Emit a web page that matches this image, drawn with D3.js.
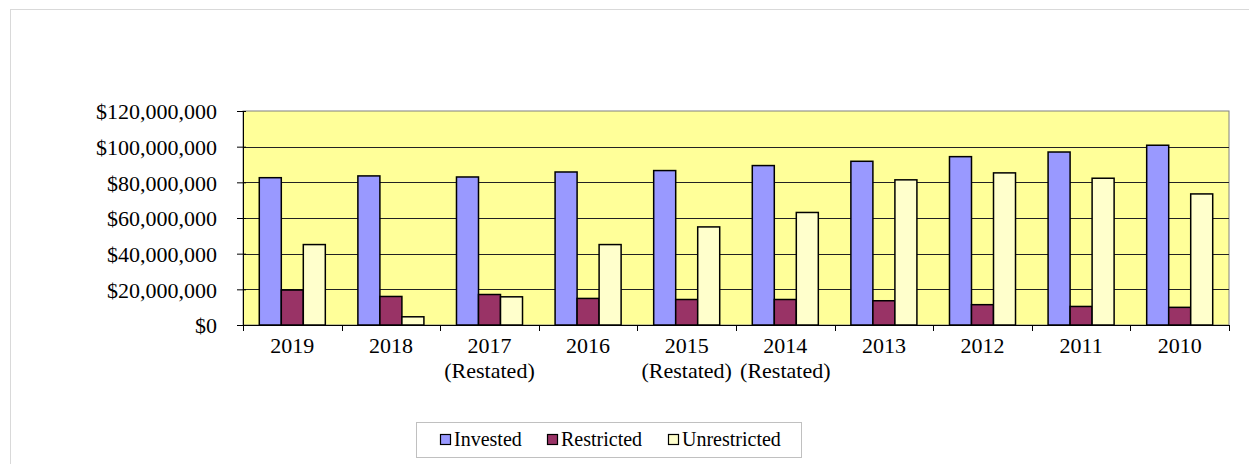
<!DOCTYPE html>
<html>
<head>
<meta charset="utf-8">
<script src="https://cdn.jsdelivr.net/npm/d3@7"></script>
<style>
  body { margin: 0; background: #fff; }
</style>
</head>
<body>
<div id="chart"></div>
<script>
var years = ["2019", "2018", "2017", "2016", "2015", "2014", "2013", "2012", "2011", "2010"];
var notes = ["", "", "(Restated)", "", "(Restated)", "(Restated)", "", "", "", ""];
var invested = [82.6, 83.6, 83.0, 85.8, 86.6, 89.4, 91.8, 94.4, 97.0, 100.8];
var restricted = [19.6, 16.0, 17.1, 14.9, 14.3, 14.3, 13.6, 11.4, 10.4, 9.9];
var unrestricted = [45.1, 4.6, 15.8, 45.1, 55.0, 63.1, 81.4, 85.3, 82.3, 73.5];
var seriesNames = ["Invested", "Restricted", "Unrestricted"];
var colors = ["#9999ff", "#993366", "#ffffcc"];
var yTicks = [0, 20, 40, 60, 80, 100, 120];

var serif = "Liberation Serif";

var W = 1249, H = 464;
var margin = {top: 111, right: 20, bottom: 139, left: 243};
var width = W - margin.left - margin.right;
var height = H - margin.top - margin.bottom;

var svg = d3.select("#chart")
  .append("svg")
    .attr("width", W)
    .attr("height", H)
    .attr("font-family", serif);

// outer chart frame
svg.append("rect")
  .attr("x", 10.5).attr("y", 9.5)
  .attr("width", W).attr("height", H)
  .attr("fill", "none")
  .attr("stroke", "#d9d9d9");

var g = svg.append("g")
  .attr("transform", "translate(" + margin.left + "," + margin.top + ")");

var x = d3.scaleBand()
  .domain(years)
  .range([0, width]);

var xs = d3.scaleBand()
  .domain(seriesNames)
  .range([0, x.bandwidth()])
  .paddingOuter(0.74);

var y = d3.scaleLinear()
  .domain([0, 120])
  .range([height, 0]);

g.append("rect")
  .attr("width", width).attr("height", height)
  .attr("fill", "#ffff99")
  .attr("stroke", "#808080");

// gridlines
g.selectAll(".grid")
  .data(yTicks.slice(1, -1))
  .enter().append("line")
    .attr("x1", 0).attr("x2", width)
    .attr("y1", function(d){ return Math.round(y(d)) + 0.5; })
    .attr("y2", function(d){ return Math.round(y(d)) + 0.5; })
    .attr("stroke", "#222");

var data = years.map(function(yr, i){
  return {year: yr, vals: [invested[i], restricted[i], unrestricted[i]]};
});

var grp = g.selectAll(".grp")
  .data(data)
  .enter().append("g")
    .attr("transform", function(d){ return "translate(" + x(d.year) + ",0)"; });

grp.selectAll("rect")
  .data(function(d){ return d.vals.map(function(v, j){ return {name: seriesNames[j], v: v, c: colors[j]}; }); })
  .enter().append("rect")
    .attr("x", function(d){ return xs(d.name); })
    .attr("width", xs.bandwidth())
    .attr("y", function(d){ return y(d.v); })
    .attr("height", function(d){ return height - y(d.v); })
    .attr("fill", function(d){ return d.c; })
    .attr("stroke", "#000")
    .attr("stroke-width", 1.5);

// y axis
var yAxis = g.append("g")
  .attr("font-family", serif)
  .call(d3.axisLeft(y).tickValues(yTicks).tickSize(6).tickPadding(20)
    .tickFormat(function(d){ return "$" + d3.format(",")(d * 1000000); }));
yAxis.attr("font-family", serif);
yAxis.selectAll("text").attr("font-family", serif).attr("font-size", 22).attr("fill", "#000").attr("dy", "0.35em");
yAxis.selectAll("line").attr("stroke", "#000").attr("x2", -6).attr("x1", 3);
yAxis.select(".domain").attr("stroke", "#000").attr("d", "M0.5," + height + "V0");

// x axis
var xAxis = g.append("g")
  .attr("transform", "translate(0," + height + ")")
  .call(d3.axisBottom(x).tickSize(0).tickPadding(0).tickFormat(""));
xAxis.select(".domain").attr("d", "M0,0.5H" + width).attr("stroke", "#000");

var bounds = d3.range(years.length + 1);
g.append("g")
  .selectAll("line")
  .data(bounds)
  .enter().append("line")
    .attr("x1", function(d){ return Math.round(x.step() * d) + 0.5; })
    .attr("x2", function(d){ return Math.round(x.step() * d) + 0.5; })
    .attr("y1", height).attr("y2", height + 6)
    .attr("stroke", "#000");

var lbl = g.append("g").selectAll("text")
  .data(data)
  .enter().append("text")
    .attr("text-anchor", "middle")
    .attr("font-family", serif)
    .attr("font-size", 22)
    .attr("transform", function(d){ return "translate(" + (x(d.year) + x.bandwidth() / 2) + "," + (height + 28) + ")"; });
lbl.append("tspan").attr("x", 0).attr("y", 0).text(function(d){ return d.year; });
lbl.append("tspan").attr("x", 0).attr("y", 25).text(function(d, i){ return notes[i]; });

// legend
var legend = svg.append("g").attr("transform", "translate(416,422)");
legend.append("rect")
  .attr("x", 0.5).attr("y", 0.5)
  .attr("width", 385).attr("height", 35)
  .attr("fill", "#fff")
  .attr("stroke", "#c0c0c0");

var legX = [24, 131, 252];
var item = legend.selectAll(".item")
  .data(seriesNames)
  .enter().append("g")
    .attr("transform", function(d, i){ return "translate(" + legX[i] + ",0)"; });
item.append("rect")
  .attr("x", 0.5).attr("y", 12.5)
  .attr("width", 10).attr("height", 10)
  .attr("fill", function(d, i){ return colors[i]; })
  .attr("stroke", "#000")
  .attr("stroke-width", 1.2);
item.append("text")
  .attr("x", 14).attr("y", 24)
  .attr("font-family", serif)
  .attr("font-size", 20)
  .text(function(d){ return d; });
</script>
</body>
</html>
